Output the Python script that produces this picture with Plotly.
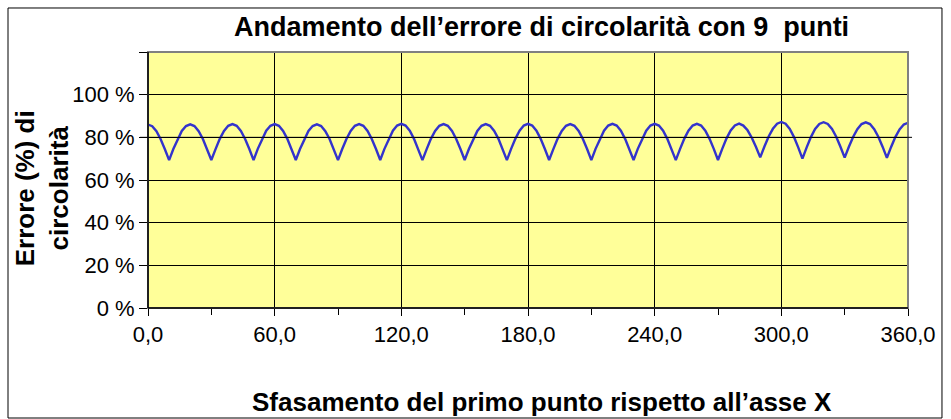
import plotly.graph_objects as go

# Phase shift of the first point (degrees), every 2 degrees from 0 to 360
phase_deg = list(range(0, 361, 2))

# Circularity error (%)
error_pct = [
    86.0, 85.2, 82.9, 79.1, 74.4, 69.3, 74.5, 79.2, 83.0, 85.3,
    86.1, 85.3, 82.9, 79.2, 74.5, 69.4, 74.5, 79.3, 83.0, 85.4,
    86.2, 85.4, 83.0, 79.2, 74.5, 69.3, 74.6, 79.3, 83.1, 85.4,
    86.2, 85.4, 83.0, 79.3, 74.5, 69.4, 74.5, 79.2, 83.0, 85.3,
    86.1, 85.3, 82.9, 79.2, 74.4, 69.3, 74.5, 79.2, 83.0, 85.4,
    86.2, 85.4, 83.0, 79.2, 74.5, 69.4, 74.6, 79.3, 83.1, 85.5,
    86.3, 85.5, 83.1, 79.3, 74.5, 69.3, 74.5, 79.3, 83.0, 85.4,
    86.2, 85.4, 83.0, 79.2, 74.5, 69.4, 74.5, 79.2, 83.0, 85.4,
    86.2, 85.4, 83.0, 79.3, 74.5, 69.3, 74.6, 79.3, 83.1, 85.5,
    86.3, 85.5, 83.1, 79.3, 74.5, 69.4, 74.5, 79.3, 83.0, 85.4,
    86.2, 85.4, 83.0, 79.2, 74.5, 69.3, 74.6, 79.3, 83.1, 85.5,
    86.3, 85.5, 83.1, 79.3, 74.6, 69.4, 74.6, 79.3, 83.1, 85.5,
    86.3, 85.5, 83.1, 79.3, 74.5, 69.3, 74.5, 79.3, 83.1, 85.5,
    86.3, 85.5, 83.1, 79.3, 74.6, 69.4, 74.6, 79.4, 83.2, 85.6,
    86.4, 85.5, 83.3, 79.8, 75.5, 70.6, 75.7, 80.4, 84.0, 86.4,
    87.2, 86.4, 83.9, 80.1, 75.3, 70.0, 75.3, 80.1, 83.9, 86.3,
    87.1, 86.3, 83.9, 80.3, 75.6, 70.5, 75.6, 80.2, 83.8, 86.2,
    87.0, 86.2, 83.8, 80.2, 75.5, 70.4, 75.5, 80.1, 83.7, 86.0,
    86.8,
]

x_tick_vals = [0, 60, 120, 180, 240, 300, 360]
x_tick_text = ["0,0", "60,0", "120,0", "180,0", "240,0", "300,0", "360,0"]
y_tick_vals = [0, 20, 40, 60, 80, 100, 120]
y_tick_text = ["0 %", "20 %", "40 %", "60 %", "80 %", "100 %", ""]

title_text = "Andamento dell’errore di circolarità con 9  punti"
x_title = "Sfasamento del primo punto rispetto all’asse X"
y_title = "Errore (%) di<br>circolarità"

FONT = "Liberation Sans, Arial, sans-serif"

fig = go.Figure()
fig.add_trace(go.Scatter(
    x=phase_deg, y=error_pct, mode="lines",
    line=dict(color="#3333CC", width=2.4),
    hoverinfo="x+y", showlegend=False,
))

fig.update_layout(
    width=951, height=419,
    margin=dict(l=148, r=43, t=52, b=111),
    paper_bgcolor="white",
    plot_bgcolor="#FFFF99",
    font=dict(family=FONT, color="black", size=22),
    xaxis=dict(
        range=[0, 360], tickvals=x_tick_vals, ticktext=x_tick_text,
        showgrid=True, gridcolor="black", gridwidth=1,
        ticks="outside", ticklen=7, tickcolor="black",
        showline=True, linecolor="black", linewidth=1,
        minor=dict(dtick=30, tick0=0, ticks="outside", ticklen=6, tickcolor="black", showgrid=False),
        zeroline=False, tickfont=dict(size=22),
    ),
    yaxis=dict(
        range=[0, 120], tickvals=y_tick_vals, ticktext=y_tick_text,
        showgrid=True, gridcolor="black", gridwidth=1,
        ticks="outside", ticklen=8, tickcolor="black",
        showline=True, linecolor="black", linewidth=1,
        zeroline=False, tickfont=dict(size=22),
    ),
    shapes=[
        # outer chart border
        dict(type="rect", xref="paper", yref="paper",
             x0=-0.1842, x1=1.0447, y0=-0.4297, y1=1.1719,
             line=dict(color="black", width=1), layer="below"),
        # plot area border (gray)
        dict(type="rect", xref="paper", yref="paper",
             x0=0, x1=1, y0=0, y1=1,
             line=dict(color="#808080", width=2), layer="above"),
        # axis crossing line at 80 %
        dict(type="line", xref="paper", yref="y",
             x0=-0.0105, x1=1.0053, y0=80, y1=80,
             line=dict(color="black", width=1), layer="above"),
    ],
    annotations=[
        dict(text="<b>" + title_text + "</b>", xref="paper", yref="paper",
             x=0.518, y=1.098, showarrow=False, font=dict(size=27),
             xanchor="center", yanchor="middle"),
        dict(text="<b>" + x_title + "</b>", xref="paper", yref="paper",
             x=0.518, y=-0.367, showarrow=False, font=dict(size=26),
             xanchor="center", yanchor="middle"),
        dict(text="<b>" + y_title + "</b>", xref="paper", yref="paper",
             x=-0.139, y=0.469, showarrow=False, font=dict(size=26),
             textangle=-90, xanchor="center", yanchor="middle"),
    ],
)

# redraw left/bottom axis lines in black above the gray border
fig.add_shape(type="line", xref="paper", yref="paper", x0=0, x1=0, y0=0, y1=1,
              line=dict(color="black", width=1.5), layer="above")
fig.add_shape(type="line", xref="paper", yref="paper", x0=0, x1=1, y0=0, y1=0,
              line=dict(color="black", width=1.5), layer="above")

fig.write_html("out.html")
